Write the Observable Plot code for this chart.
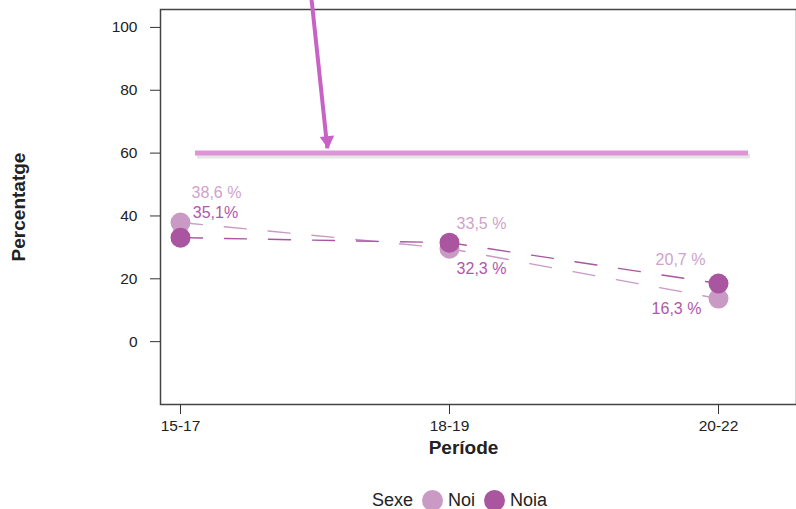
<!DOCTYPE html>
<html>
<head>
<meta charset="utf-8">
<script src="https://cdn.jsdelivr.net/npm/d3@7"></script>
<script src="https://cdn.jsdelivr.net/npm/@observablehq/plot@0.6"></script>
<style>
  html, body { margin: 0; padding: 0; background: #fff; }
  body { font-family: "Liberation Sans", Arial, Helvetica, sans-serif; }
  #wrap { position: relative; width: 796px; height: 509px; overflow: hidden; }
  #legend { position: absolute; left: 372px; top: 489px; display: flex; align-items: center; font-size: 18px; color: #222; line-height: 22px; }
  #legend .sw { width: 21px; height: 21px; border-radius: 50%; display: inline-block; margin: 0 5px 0 9px; }
</style>
</head>
<body>
<div id="wrap"></div>
<script>
// ---- data ----
const periods = ["15-17", "18-19", "20-22"];
const sexes = ["Noi", "Noia"];
const noiValues = [37.9, 29.6, 13.7];
const noiaValues = [33.1, 31.5, 18.5];
const noiLabels = ["38,6 %", "33,5 %", "20,7 %"];
const noiaLabels = ["35,1%", "32,3 %", "16,3 %"];
const yTicks = [0, 20, 40, 60, 80, 100];
const referenceLevel = [60];
const arrowAnnotation = [{x1: 0.487, y1: 109, x2: 0.546, y2: 61.5}];

// ---- styles ----
const sexColors = ["#c99ac4", "#a9559f"];
const labelColors = {Noi: "#d0a2cb", Noia: "#b256aa"};
const labelOffsets = {
  Noi: [[36, -30], [32, -25], [-38, -39]],
  Noia: [[35, -25], [32, 26], [-42, 25]]
};
const arrowColor = "#c862c4";
const refColor = "#de95d6";

const rows = periods.flatMap((p, i) => [
  {period: p, idx: i, sex: "Noi", value: noiValues[i], label: noiLabels[i]},
  {period: p, idx: i, sex: "Noia", value: noiaValues[i], label: noiaLabels[i]}
]);

const labelMarks = rows.map(r => {
  const [dx, dy] = labelOffsets[r.sex][r.idx];
  return Plot.text([r], {x: "idx", y: "value", text: "label", fill: labelColors[r.sex], dx, dy, fontSize: 16});
});

const chart = Plot.plot({
  width: 796,
  height: 470,
  marginLeft: 160,
  marginRight: 0,
  marginTop: 9,
  marginBottom: 66,
  style: {fontFamily: "'Liberation Sans', Arial, Helvetica, sans-serif", fontSize: "15.5px", color: "#222", background: "#fff", overflow: "visible"},
  x: {domain: [0, 2], insetLeft: 20, insetRight: 78},
  y: {domain: [-20, 105.7]},
  color: {domain: sexes, range: sexColors},
  marks: [
    Plot.frame({stroke: "#444", strokeWidth: 1.5}),
    Plot.axisY({ticks: yTicks, tickSize: 10, tickPadding: 13, label: null, fontSize: 15.5, stroke: "#333"}),
    Plot.axisX({ticks: [0, 1, 2], tickFormat: i => periods[i], tickSize: 10, tickPadding: 5, label: null, fontSize: 15.5, stroke: "#333"}),
    Plot.text(["Percentatge"], {text: d => d, frameAnchor: "left", textAnchor: "middle", rotate: -90, dx: -142, fontSize: 19, fontWeight: "bold", fill: "#222"}),
    Plot.text(["Període"], {text: d => d, frameAnchor: "bottom", textAnchor: "middle", dx: -15, dy: 49, fontSize: 19, fontWeight: "bold", fill: "#222"}),
    Plot.ruleY(referenceLevel, {stroke: "#777", strokeOpacity: 0.18, strokeWidth: 5, dy: 3, insetLeft: 37, insetRight: 46}),
    Plot.ruleY(referenceLevel, {stroke: refColor, strokeWidth: 5, insetLeft: 35, insetRight: 48}),
    Plot.link(arrowAnnotation, {x1: "x1", y1: "y1", x2: "x2", y2: "y2", stroke: arrowColor, strokeWidth: 4}),
    Plot.dot(arrowAnnotation, {x: "x2", y: "y2", symbol: "triangle", r: 5.4, fill: arrowColor, rotate: 174, dy: -8}),
    Plot.line(rows, {x: "idx", y: "value", z: "sex", stroke: "sex", strokeWidth: 1.4, strokeDasharray: "22,22"}),
    Plot.dot(rows, {x: "idx", y: "value", fill: "sex", r: 10}),
    ...labelMarks
  ]
});

const wrap = document.getElementById("wrap");
wrap.appendChild(chart);

const legend = document.createElement("div");
legend.id = "legend";
const title = document.createElement("span");
title.textContent = "Sexe";
legend.appendChild(title);
sexes.forEach((s, i) => {
  const sw = document.createElement("span");
  sw.className = "sw";
  sw.style.background = sexColors[i];
  legend.appendChild(sw);
  const t = document.createElement("span");
  t.textContent = s;
  legend.appendChild(t);
});
wrap.appendChild(legend);
</script>
</body>
</html>
